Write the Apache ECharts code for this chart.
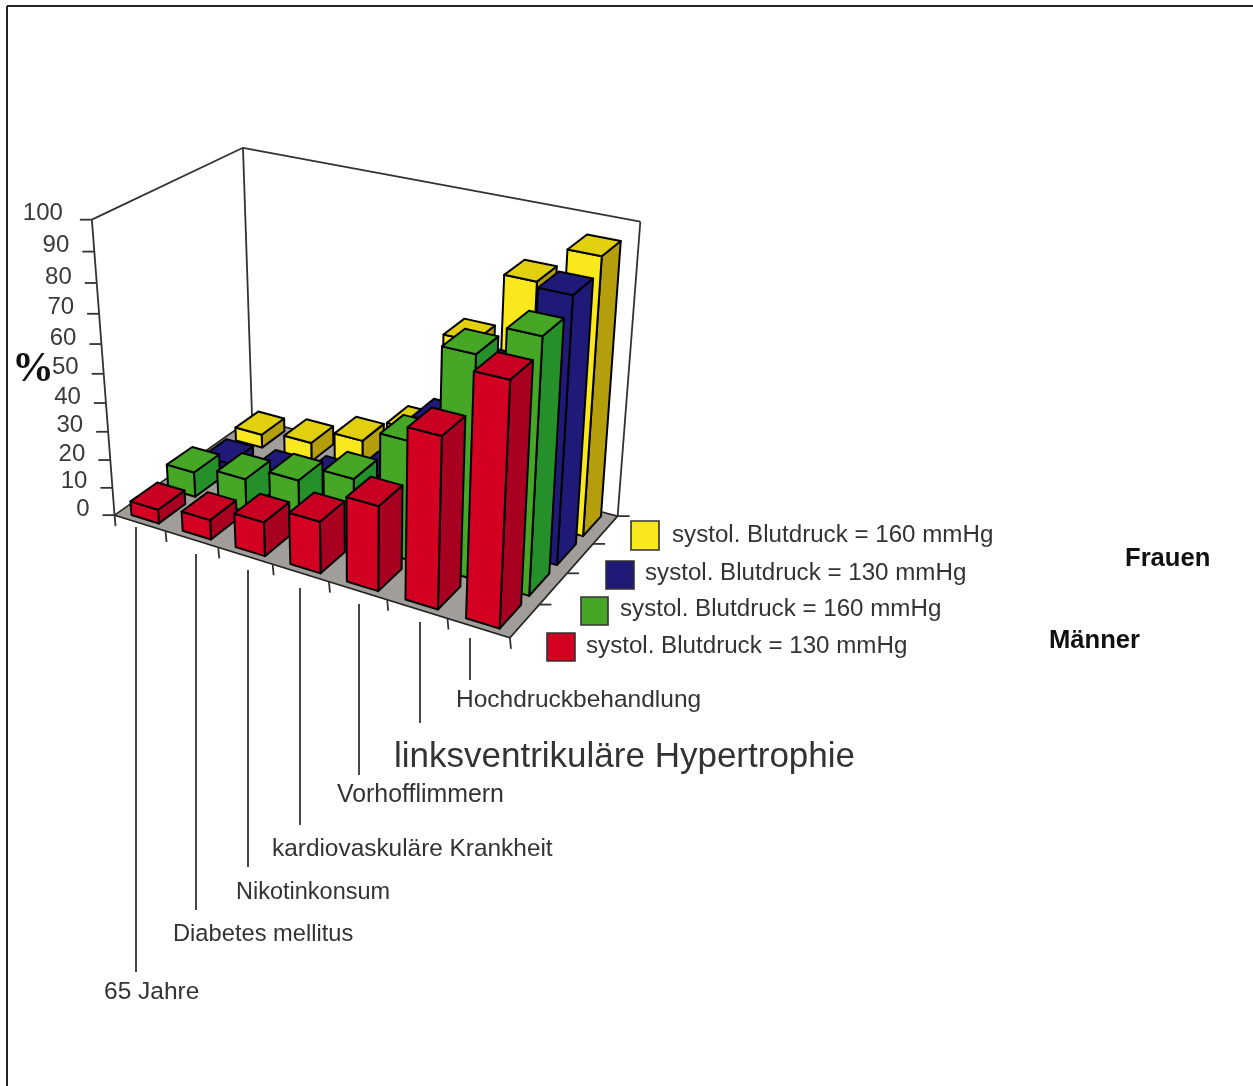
<!DOCTYPE html>
<html>
<head>
<meta charset="utf-8">
<title>Risikofaktoren</title>
<style>html,body{margin:0;padding:0;background:#fff}#chart{width:1253px;height:1086px}</style>
<script src="https://cdn.jsdelivr.net/npm/echarts@6/dist/echarts.min.js"></script>
</head>
<body>
<div id="chart"></div>
<script>
// Risk factors by category, one row of columns per sex / systolic pressure group.
const categories = ['65 Jahre', 'Diabetes mellitus', 'Nikotinkonsum', 'kardiovaskuläre Krankheit',
  'Vorhofflimmern', 'linksventrikuläre Hypertrophie', 'Hochdruckbehandlung'];
const yTicks = [0, 10, 20, 30, 40, 50, 60, 70, 80, 90, 100];
const seriesLabels = ['systol. Blutdruck = 130 mmHg', 'systol. Blutdruck = 160 mmHg',
  'systol. Blutdruck = 130 mmHg', 'systol. Blutdruck = 160 mmHg'];
const menLow = [5, 7, 12, 18, 29, 57, 79];
const menHigh = [9, 12, 17, 23, 41, 74, 84];
const womenLow = [3, 4, 7, 14, 38, 60, 89];
const womenHigh = [5, 7, 13, 22, 58, 82, 94];

const COUNT_U = categories.length, COUNT_V = 4, MAX_W = 100;
const BAR_HALF_U = 0.27, BAR_HALF_V = 0.36;

// Perspective camera: a 3x4 projection fitted to where the box corners fall on the page.
const anchors = [
  [0, 0, 0, 115, 516], [7, 0, 0, 511, 637], [7, 4, 0, 618, 517], [0, 4, 0, 252, 417],
  [0, 0, 100, 92, 218], [0, 4, 100, 243, 148], [7, 4, 100, 640, 222], [0, 0, 50, 104, 376],
  [4, 0, 0, 327, 581]
];
function fitCamera(pts) {
  const n = 11, A = Array.from({ length: n }, () => new Array(n + 1).fill(0));
  const addRow = (row, rhs) => {
    for (let i = 0; i < n; i++) {
      for (let j = 0; j < n; j++) A[i][j] += row[i] * row[j];
      A[i][n] += row[i] * rhs;
    }
  };
  pts.forEach(([a, b, c, px, py]) => {
    const X = a / COUNT_U, Y = b / COUNT_V, Z = c / MAX_W, x = px / 1000, y = py / 1000;
    addRow([X, Y, Z, 1, 0, 0, 0, 0, -x * X, -x * Y, -x * Z], x);
    addRow([0, 0, 0, 0, X, Y, Z, 1, -y * X, -y * Y, -y * Z], y);
  });
  for (let i = 0; i < n; i++) {
    let piv = i;
    for (let r = i + 1; r < n; r++) if (Math.abs(A[r][i]) > Math.abs(A[piv][i])) piv = r;
    [A[i], A[piv]] = [A[piv], A[i]];
    for (let r = 0; r < n; r++) {
      if (r === i) continue;
      const f = A[r][i] / A[i][i];
      for (let c = i; c <= n; c++) A[r][c] -= f * A[i][c];
    }
  }
  return A.map((row, i) => row[n] / row[i]);
}
const cam = fitCamera(anchors);

// Map (category position, row position, value) to the page. The hidden cartesian axes supply
// the scale for category position and value; the camera turns the result into perspective.
function project(api, u, v, value) {
  const o = api.coord([0, 0]), e = api.coord([COUNT_U, MAX_W]), p = api.coord([u, value]);
  const X = (p[0] - o[0]) / (e[0] - o[0]), Z = (p[1] - o[1]) / (e[1] - o[1]), Y = v / COUNT_V;
  const d = cam[8] * X + cam[9] * Y + cam[10] * Z + 1;
  return [
    1000 * (cam[0] * X + cam[1] * Y + cam[2] * Z + cam[3]) / d,
    1000 * (cam[4] * X + cam[5] * Y + cam[6] * Z + cam[7]) / d
  ];
}

const EDGE = '#000';
function face(points, fill) {
  return { type: 'polygon', shape: { points }, style: { fill, stroke: EDGE, lineWidth: 2, lineJoin: 'round' } };
}
function segment(a, b, color, width) {
  return { type: 'line', shape: { x1: a[0], y1: a[1], x2: b[0], y2: b[1] },
    style: { stroke: color || '#333', lineWidth: width || 1.8 } };
}

function columnSeries(name, values, row, colors) {
  return {
    type: 'custom', name, coordinateSystem: 'cartesian2d', silent: true, clip: false,
    encode: { x: 0, y: 1 },
    data: values.map((v, i) => ({ name: categories[i], value: [i, v] })),
    renderItem(params, api) {
      const i = api.value(0), val = api.value(1);
      const u0 = i + 0.5 - BAR_HALF_U, u1 = i + 0.5 + BAR_HALF_U;
      const v0 = row + 0.5 - BAR_HALF_V, v1 = row + 0.5 + BAR_HALF_V;
      const P = (u, v, w) => project(api, u, v, w);
      return {
        type: 'group',
        children: [
          face([P(u1, v0, 0), P(u1, v1, 0), P(u1, v1, val), P(u1, v0, val)], colors.side),
          face([P(u0, v0, 0), P(u1, v0, 0), P(u1, v0, val), P(u0, v0, val)], colors.front),
          face([P(u0, v0, val), P(u1, v0, val), P(u1, v1, val), P(u0, v1, val)], colors.top)
        ]
      };
    }
  };
}

const palette = {
  menLow: { front: '#d40022', side: '#a80020', top: '#c80022' },
  menHigh: { front: '#46a626', side: '#25902a', top: '#46a626' },
  womenLow: { front: '#1f1a78', side: '#1f1a78', top: '#1f1a78' },
  womenHigh: { front: '#f9e81c', side: '#b49e0c', top: '#e2d00e' }
};

// Floor, wall edges and the ticks along the front and right floor edges.
const boxSeries = {
  type: 'custom', coordinateSystem: 'cartesian2d', silent: true, clip: false,
  encode: { x: 0, y: 1 }, data: [[0, 0]],
  renderItem(params, api) {
    const P = (u, v, w) => project(api, u, v, w);
    const kids = [
      { type: 'polygon', shape: { points: [P(0, 0, 0), P(7, 0, 0), P(7, 4, 0), P(0, 4, 0)] },
        style: { fill: '#a19e99', stroke: '#222', lineWidth: 1.6 } },
      segment(P(0, 0, 100), P(0, 4, 100)), segment(P(0, 4, 100), P(7, 4, 100)),
      segment(P(0, 4, 100), P(0, 4, 0)), segment(P(7, 4, 100), P(7, 4, 0)),
      segment(P(0, 0, 100), P(0, 0, 0))
    ];
    for (let i = 0; i <= COUNT_U; i++) {
      const a = P(i, 0, 0);
      kids.push(segment(a, [a[0] + 1, a[1] + 11]));
    }
    for (let j = 1; j <= COUNT_V; j++) {
      const a = P(7, j, 0);
      kids.push(segment(a, [a[0] + 12, a[1]]));
    }
    return { type: 'group', children: kids };
  }
};

// Value axis: tick marks and labels follow the projected left edge.
const axisSeries = {
  type: 'custom', coordinateSystem: 'cartesian2d', silent: true, clip: false,
  encode: { x: 0, y: 1 }, data: yTicks.map(t => [0, t]),
  renderItem(params, api) {
    const t = api.value(1), a = project(api, 0, 0, t);
    return {
      type: 'group',
      children: [
        segment([a[0] - 12, a[1]], a),
        { type: 'text', style: { text: String(t), x: a[0] - (t === 100 ? 29 : 25), y: a[1] - 6, align: 'right',
          verticalAlign: 'middle', font: '24px "Liberation Sans"', fill: '#3a3a3a' } }
      ]
    };
  }
};

// Page annotations: frame, legend entries, group names and the category captions with leaders.
const captionLayout = [
  { x: 104, y: 992, size: 24.5, lx: 136, ly: [527, 972] },
  { x: 173, y: 934, size: 23.7, lx: 196, ly: [554, 910] },
  { x: 236, y: 893, size: 23.5, lx: 248, ly: [570, 867] },
  { x: 272, y: 849, size: 24.4, lx: 300, ly: [588, 825] },
  { x: 337, y: 795, size: 24.9, lx: 359, ly: [604, 775] },
  { x: 394, y: 757, size: 35, lx: 420, ly: [622, 723] },
  { x: 456, y: 700, size: 24.5, lx: 470, ly: [638, 680] }
];
const legendLayout = [
  { color: palette.menLow.front, box: [547, 633, 28, 28], tx: 586, ty: 646 },
  { color: palette.menHigh.front, box: [581, 597, 27, 28], tx: 620, ty: 609 },
  { color: palette.womenLow.front, box: [606, 561, 28, 28], tx: 645, ty: 573 },
  { color: palette.womenHigh.front, box: [631, 521, 28, 29], tx: 672, ty: 535 }
];
const label = (text, x, y, font, fill) => ({ type: 'text', x, y,
  style: { text, font, fill: fill || '#333', verticalAlign: 'middle' } });
const rule = (x1, y1, x2, y2, width, color) => ({ type: 'line',
  shape: { x1, y1, x2, y2 }, style: { stroke: color || '#333', lineWidth: width } });

const graphics = [
  rule(7, 6, 1253, 6, 2, '#222'), rule(7, 6, 7, 1086, 2, '#222'),
  label('%', 12, 370, 'bold 42px "Liberation Serif"', '#111'),
  label('Frauen', 1125, 559, 'bold 25.6px "Liberation Sans"', '#111'),
  label('Männer', 1049, 641, 'bold 25.6px "Liberation Sans"', '#111')
];
captionLayout.forEach((c, i) => {
  graphics.push(rule(c.lx, c.ly[0], c.lx, c.ly[1], 1.8));
  graphics.push(label(categories[i], c.x, c.y, c.size + 'px "Liberation Sans"'));
});
legendLayout.forEach((l, i) => {
  graphics.push({ type: 'rect', shape: { x: l.box[0], y: l.box[1], width: l.box[2], height: l.box[3] },
    style: { fill: l.color, stroke: '#333', lineWidth: 1.6 } });
  graphics.push(label(seriesLabels[i], l.tx, l.ty, '24.15px "Liberation Sans"'));
});

const chart = echarts.init(document.getElementById('chart'), null, { renderer: 'canvas' });
chart.setOption({
  animation: false,
  backgroundColor: '#fff',
  grid: { left: 0, top: 0, right: 0, bottom: 0 },
  xAxis: { type: 'value', min: 0, max: COUNT_U, show: false },
  yAxis: { type: 'value', min: 0, max: MAX_W, show: false },
  graphic: graphics,
  series: [
    boxSeries,
    axisSeries,
    columnSeries('Frauen 160 mmHg', womenHigh, 3, palette.womenHigh),
    columnSeries('Frauen 130 mmHg', womenLow, 2, palette.womenLow),
    columnSeries('Männer 160 mmHg', menHigh, 1, palette.menHigh),
    columnSeries('Männer 130 mmHg', menLow, 0, palette.menLow)
  ]
});
</script>
</body>
</html>
